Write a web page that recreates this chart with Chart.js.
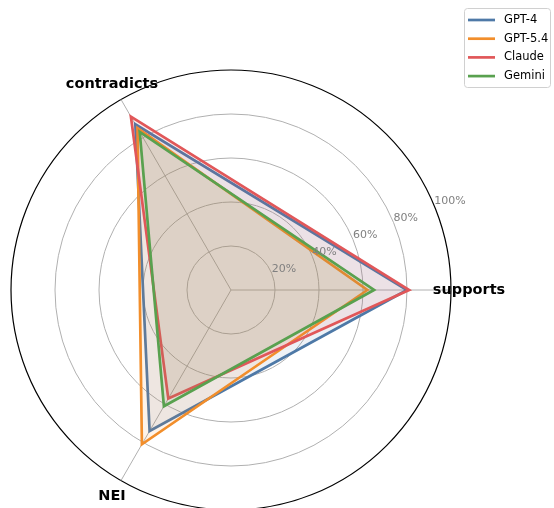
<!DOCTYPE html>
<html lang="en">
<head>
  <meta charset="UTF-8" />
  <title>Radar - stance accuracy</title>
  <style>
    body {
      margin: 0;
      padding: 0;
      background: #fff;
      overflow: hidden;
    }
    #wrap {
      width: 554px;
      height: 508px;
      overflow: hidden;
    }
  </style>
</head>
<body>
  <div id="wrap">
    <canvas id="radar" width="554" height="510"></canvas>
  </div>

  <script src="https://cdn.jsdelivr.net/npm/chart.js"></script>

  <script>
    // axes in drawing order (clockwise from the right)
    const categories = ['supports', 'NEI', 'contradicts'];
    const models = ['GPT-4', 'GPT-5.4', 'Claude', 'Gemini'];
    const colors = ['#4E79A7', '#F28E2B', '#E15759', '#59A14F'];

    // values in % for each axis above
    const gpt4 = [80, 74, 87];
    const gpt54 = [62, 81, 85];
    const claude = [81, 57, 91];
    const gemini = [65, 61, 83];

    const tickValues = [20, 40, 60, 80, 100];
    const tickLabels = ['20%', '40%', '60%', '80%', '100%'];

    const series = [gpt4, gpt54, claude, gemini];
    const FONT = '"DejaVu Sans", sans-serif';

    function hexAlpha(hex, a) {
      const n = parseInt(hex.slice(1), 16);
      return `rgba(${(n >> 16) & 255}, ${(n >> 8) & 255}, ${n & 255}, ${a})`;
    }

    // tick labels at 22.5deg + axis names + legend box, matplotlib style
    const overlay = {
      id: 'overlay',
      afterDatasetsDraw(chart) {
        const ctx = chart.ctx;
        const r = chart.scales.r;
        const cx = r.xCenter, cy = r.yCenter;

        ctx.save();
        ctx.font = '11px ' + FONT;
        ctx.fillStyle = '#808080';
        ctx.textAlign = 'left';
        ctx.textBaseline = 'bottom';
        const a = 22.5 * Math.PI / 180;
        tickValues.forEach((v, i) => {
          const d = r.getDistanceFromCenterForValue(v);
          ctx.fillText(tickLabels[i], cx + Math.cos(a) * d, cy - Math.sin(a) * d + 1);
        });

        ctx.font = 'bold 14.5px ' + FONT;
        ctx.fillStyle = '#000';
        ctx.textAlign = 'center';
        ctx.textBaseline = 'middle';
        const labelDist = r.getDistanceFromCenterForValue(100) * 1.082;
        categories.forEach((c, i) => {
          const p = r.getPointPosition(i, labelDist);
          ctx.fillText(c, p.x, p.y);
        });
        ctx.restore();
      },
      afterDraw(chart) {
        const ctx = chart.ctx;
        ctx.save();
        const x = 464.5, y = 8.5, w = 86, h = 79;
        ctx.beginPath();
        ctx.roundRect(x, y, w, h, 3);
        ctx.fillStyle = 'rgba(255,255,255,0.8)';
        ctx.fill();
        ctx.strokeStyle = '#d0d0d0';
        ctx.lineWidth = 1;
        ctx.stroke();

        ctx.font = '11.5px ' + FONT;
        ctx.textAlign = 'left';
        ctx.textBaseline = 'middle';
        chart.data.datasets.forEach((ds, i) => {
          const ly = 20 + i * 18.7;
          ctx.beginPath();
          ctx.moveTo(468, ly);
          ctx.lineTo(495, ly);
          ctx.strokeStyle = ds.borderColor;
          ctx.lineWidth = 2.7;
          ctx.stroke();
          ctx.fillStyle = '#000';
          ctx.fillText(ds.label, 504, ly);
        });
        ctx.restore();
      }
    };

    const datasets = models.map((m, i) => ({
      label: m,
      data: series[i],
      borderColor: colors[i],
      backgroundColor: hexAlpha(colors[i], 0.1),
      borderWidth: 2.7,
      fill: true,
      pointRadius: 0,
      pointHoverRadius: 0,
      order: models.length - i
    }));

    new Chart(document.getElementById('radar'), {
      type: 'radar',
      data: { labels: categories, datasets: datasets },
      options: {
        responsive: false,
        animation: false,
        layout: { padding: { left: 11, top: 70, right: 103, bottom: 0 } },
        elements: { line: { tension: 0, borderJoinStyle: 'miter' } },
        plugins: {
          legend: { display: false },
          tooltip: { enabled: false }
        },
        scales: {
          r: {
            min: 0,
            max: 100,
            startAngle: 90,
            ticks: { stepSize: 20, display: false },
            pointLabels: { display: false },
            grid: {
              circular: true,
              color: ctx => ctx.tick && ctx.tick.value === 100 ? '#000' : '#b0b0b0',
              lineWidth: ctx => ctx.tick && ctx.tick.value === 100 ? 1.2 : 1
            },
            angleLines: { color: '#b0b0b0', lineWidth: 1 }
          }
        }
      },
      plugins: [overlay]
    });
  </script>
</body>
</html>
